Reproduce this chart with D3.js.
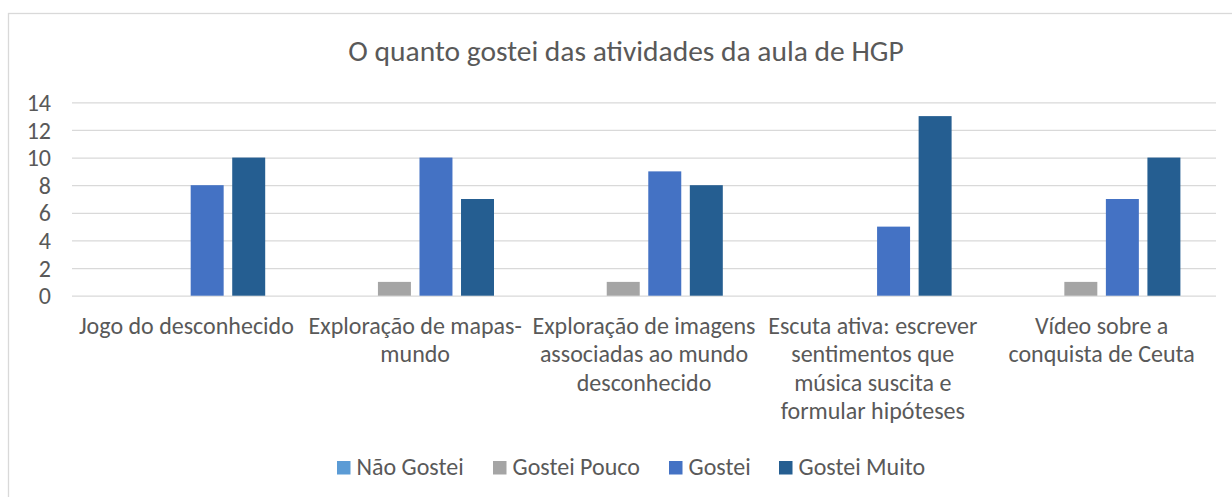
<!DOCTYPE html>
<html>
<head>
<meta charset="utf-8">
<script src="https://cdn.jsdelivr.net/npm/d3@7"></script>
<style>
  body { margin: 0; background: #fff; }
  text { font-family: Carlito, Calibri, Lato, sans-serif; fill: #595959; }
</style>
</head>
<body>
<svg id="chart" width="1232" height="497"></svg>
<script>
// data
var categories = ["Jogo do desconhecido",
                  "Exploração de mapas-\nmundo",
                  "Exploração de imagens\nassociadas ao mundo\ndesconhecido",
                  "Escuta ativa: escrever\nsentimentos que\nmúsica suscita e\nformular hipóteses",
                  "Vídeo sobre a\nconquista de Ceuta"];
var series = ["Não Gostei", "Gostei Pouco", "Gostei", "Gostei Muito"];
var naoGostei   = [0, 0, 0, 0, 0];
var gosteiPouco = [0, 1, 1, 0, 1];
var gostei      = [8, 10, 9, 5, 7];
var gosteiMuito = [10, 7, 8, 13, 10];
var yTicks = [0, 2, 4, 6, 8, 10, 12, 14];
var colors = ["#5B9BD5", "#A5A5A5", "#4472C4", "#255E91"];

var values = [naoGostei, gosteiPouco, gostei, gosteiMuito];

var svg = d3.select("#chart");
var plotL = 72, plotR = 1216, plotT = 102.3, plotB = 295.7;

// outer frame
svg.append("rect").attr("x", 8.5).attr("y", 13.5).attr("width", 1240).attr("height", 500)
  .attr("fill", "none").attr("stroke", "#D9D9D9").attr("stroke-width", 1.3);

svg.append("text").attr("x", 626).attr("y", 61).attr("text-anchor", "middle")
  .style("font-size", "29.5px").text("O quanto gostei das atividades da aula de HGP");

var x0 = d3.scaleBand().domain(categories).range([plotL, plotR]);
var bw = x0.bandwidth();
var groupW = 157.6;
var x1 = d3.scaleBand().domain(series).range([(bw - groupW) / 2, (bw + groupW) / 2]).paddingInner(0.206);
var y = d3.scaleLinear().domain([0, 14]).range([plotB, plotT]);

// gridlines + y labels
var yAxis = svg.append("g").attr("transform", "translate(" + plotL + ",0)")
  .call(d3.axisLeft(y).tickValues(yTicks).tickSize(-(plotR - plotL)).tickPadding(21));
yAxis.select(".domain").remove();
yAxis.selectAll("line").attr("stroke", "#D9D9D9").attr("stroke-width", 1.3);
yAxis.selectAll("text").style("font-size", "24px").attr("fill", "#595959").attr("dy", "0.34em");

// bars
var groups = svg.append("g").selectAll("g").data(categories).enter().append("g")
  .attr("transform", function(d) { return "translate(" + x0(d) + ",0)"; });
groups.selectAll("rect").data(function(d, i) {
    return series.map(function(s, j) { return {s: s, v: values[j][i], c: colors[j]}; });
  }).enter().append("rect")
  .filter(function(d) { return d.v > 0; })
  .attr("x", function(d) { return x1(d.s); })
  .attr("width", x1.bandwidth())
  .attr("y", function(d) { return y(d.v); })
  .attr("height", function(d) { return y(0) - y(d.v); })
  .attr("fill", function(d) { return d.c; });

// category labels
var lh = 28.3;
categories.forEach(function(c) {
  var t = svg.append("text").attr("text-anchor", "middle").style("font-size", "24px");
  c.split("\n").forEach(function(line, k) {
    t.append("tspan").attr("x", x0(c) + bw / 2).attr("y", 334 + k * lh).text(line);
  });
});

// legend
var legX = [337, 493, 669, 779];
var leg = svg.append("g");
series.forEach(function(s, j) {
  leg.append("rect").attr("x", legX[j]).attr("y", 461).attr("width", 13.5).attr("height", 13.5).attr("fill", colors[j]);
  leg.append("text").attr("x", legX[j] + 19.5).attr("y", 475).style("font-size", "24px").text(s);
});
</script>
</body>
</html>
